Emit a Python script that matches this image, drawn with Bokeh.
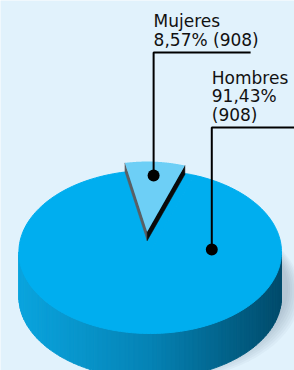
import numpy as np
from bokeh.plotting import figure
from bokeh.models import Range1d
from bokeh.embed import file_html
from bokeh.resources import INLINE
from bokeh.core.properties import value

# ---- data ----
categories = ["Mujeres", "Hombres"]
shares = [8.57, 91.43]          # percent
counts = [908, 908]

# ---- style / geometry constants ----
W, H = 294, 370
BG = "#e1f2fc"
TOP_COLORS = ["#6dcff6", "#00aeef"]
CX, CY, RX, RY, DEPTH = 149.7, 251.5, 131.3, 81.5, 45
START = 70.5                    # degrees, counter-clockwise
EXPLODE = [(-0.023, 0.25), (0.0, 0.0)]
RSCALE = [0.86, 1.0]
WEDGE_H = 9
DOT_POS = [(None, 0.69), (3.6, 0.47)]   # (angle or bisector, radius) in unit coords
LEADER_Y = [52, 127]
LEADER_LEN = [97, 90]
FONT = value("DejaVu Sans")
FS = "17px"
LINE_SP = 18.3
TEXT_GAP = 13


def px(u, v, off=(0.0, 0.0)):
    return CX + RX * (u + off[0]), CY - RY * (v + off[1])


def arc(a0, a1, r=1.0, off=(0.0, 0.0), n=200):
    t = np.radians(np.linspace(a0, a1, n))
    x, y = px(r * np.cos(t), r * np.sin(t), off)
    return list(x), list(y)


def lerp_color(t, stops):
    for (t0, c0), (t1, c1) in zip(stops[:-1], stops[1:]):
        if t <= t1:
            f = (t - t0) / (t1 - t0) if t1 > t0 else 0
            a = [int(c0[i:i + 2], 16) for i in (1, 3, 5)]
            b = [int(c1[i:i + 2], 16) for i in (1, 3, 5)]
            return "#%02x%02x%02x" % tuple(int(round(a[k] + (b[k] - a[k]) * f)) for k in range(3))
    return stops[-1][1]


SIDE_STOPS = [(0.0, "#0aa4de"), (0.5, "#0583b5"), (1.0, "#004b6b")]

# slice angles from data
angles = []
a = START
for s in shares:
    span = 360.0 * s / sum(shares)
    angles.append((a, a + span))
    a += span

p = figure(width=W, height=H, output_backend="svg", toolbar_location=None,
           x_range=Range1d(0, W), y_range=Range1d(H, 0),
           x_axis_location=None, y_axis_location=None,
           min_border=0, background_fill_color=BG, border_fill_color=BG,
           outline_line_color=None,
           styles={"position": "absolute", "left": "0px", "top": "0px"})
p.grid.visible = False

# ---- soft shadow ----
for k in range(7):
    sx, sy = arc(0, 360, r=1.0 + 0.012 * k, off=(0.05 + 0.004 * k, -0.45 - 0.01 * k))
    p.patch(sx, sy, fill_color="#4a5f70", fill_alpha=0.045, line_color=None)

# ---- side of main slice (front half) ----
a0, a1 = angles[1]
lo, hi = max(180.0, a0), min(360.0, a1)
edges = np.linspace(lo, hi, 90)
xs, ys, cols = [], [], []
for t0, t1 in zip(edges[:-1], edges[1:]):
    tx, ty = arc(t0, t1, n=4)
    bx = tx[::-1]
    by = [y + DEPTH for y in ty[::-1]]
    xs.append(tx + bx)
    ys.append(ty + by)
    cols.append(lerp_color((np.mean(tx) - (CX - RX)) / (2 * RX), SIDE_STOPS))
p.patches(xs, ys, fill_color=cols, line_color=cols, line_width=1)

# ---- top face of main slice + hollow where the small slice was ----
for i in (1, 0):
    b0, b1 = angles[i]
    ax, ay = arc(b0, b1)
    p.patch([CX] + ax, [CY] + ay, fill_color=TOP_COLORS[1], line_color=TOP_COLORS[1], line_width=1)

# ---- exploded small slice ----
b0, b1 = angles[0]
off = EXPLODE[0]
r = RSCALE[0]
apx, apy = px(0, 0, off)
crx, cry = px(r * np.cos(np.radians(b0)), r * np.sin(np.radians(b0)), off)
clx, cly = px(r * np.cos(np.radians(b1)), r * np.sin(np.radians(b1)), off)
p.patch([apx, clx, clx, apx], [apy, cly, cly + WEDGE_H, apy + WEDGE_H],
        fill_color="#5b5f63", line_color="#5b5f63", line_width=0.5)
p.patch([apx, crx, crx, apx], [apy, cry, cry + WEDGE_H, apy + WEDGE_H],
        fill_color="#0a0a0a", line_color="#0a0a0a", line_width=0.5)
wx, wy = arc(b0, b1, r=r, off=off)
p.patch([apx] + wx, [apy] + wy, fill_color=TOP_COLORS[0], line_color=None)

# ---- dots, leaders and labels ----
for i, name in enumerate(categories):
    ang, rr = DOT_POS[i]
    if ang is None:
        ang = (angles[i][0] + angles[i][1]) / 2
    dx, dy = px(rr * np.cos(np.radians(ang)), rr * np.sin(np.radians(ang)), EXPLODE[i])
    ly = LEADER_Y[i]
    p.line([dx, dx, dx + LEADER_LEN[i]], [dy, ly, ly], line_color="#000000", line_width=2)
    p.scatter([dx], [dy], size=12, fill_color="#000000", line_color=None)
    pct = f"{shares[i]:.2f}".replace(".", ",") + "%"
    if i == 0:
        lines = [name, f"{pct} ({counts[i]})"]
    else:
        lines = [name, pct, f"({counts[i]})"]
    n = len(lines)
    ty = [ly - TEXT_GAP - LINE_SP * (n - 1 - k) for k in range(n)]
    p.text([dx] * n, ty, text=lines, text_font=FONT, text_font_size=FS,
           text_baseline="alphabetic", text_align="left", text_color="#111111")

open("out.html", "w").write(file_html(p, INLINE))
